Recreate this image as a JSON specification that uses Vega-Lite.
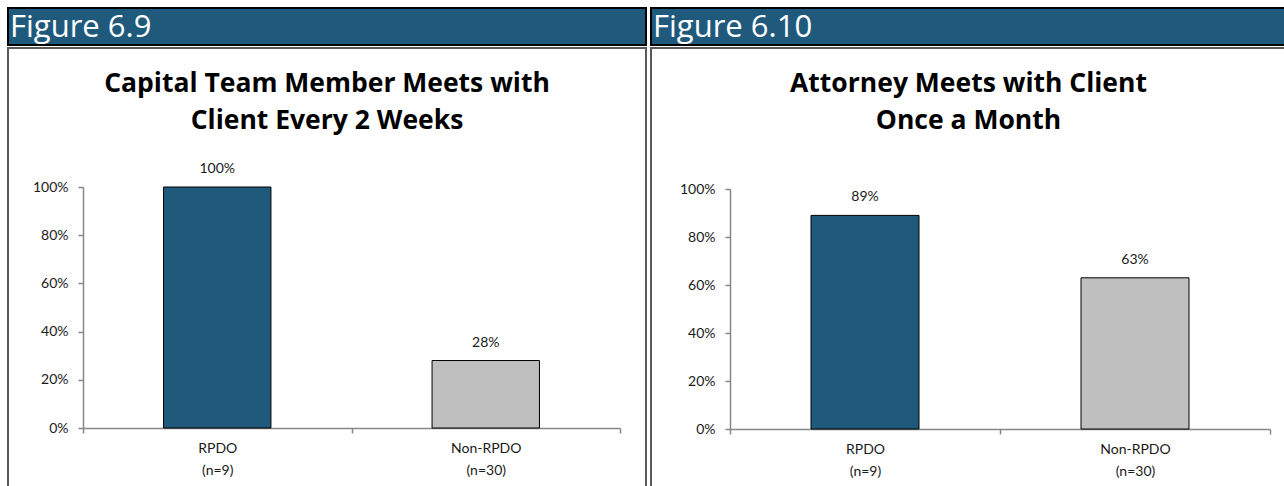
{
  "$schema": "https://vega.github.io/schema/vega-lite/v6.json",
  "padding": {"left": 7, "top": 7, "right": 0, "bottom": 0},
  "background": "white",
  "config": {"font": "Lato", "view": {"stroke": null}},
  "datasets": {
    "fig69": [{"group": "RPDO (n=9)", "pct": 1.0}, {"group": "Non-RPDO (n=30)", "pct": 0.28}],
    "fig610": [{"group": "RPDO (n=9)", "pct": 0.89}, {"group": "Non-RPDO (n=30)", "pct": 0.63}]
  },
  "spacing": 3,
  "hconcat": [
    {
      "spacing": 1,
      "vconcat": [
        {
          "width": 638, "height": 37,
          "view": {"fill": "#1F5A7D", "stroke": "#000000", "strokeWidth": 2},
          "data": {"values": [{"label": "Figure 6.9"}]},
          "mark": {"type": "text", "align": "left", "baseline": "middle", "font": "Open Sans", "fontSize": 31, "color": "white", "dx": 2, "dy": 1},
          "encoding": {
            "text": {"field": "label"},
            "x": {"datum": 0, "type": "quantitative", "scale": {"domain": [0, 1]}, "axis": null}
          }
        },
        {
          "width": 638, "height": 441,
          "view": {"stroke": "#595959", "strokeWidth": 2, "fill": "white"},
          "title": {"text": ["Capital Team Member Meets with", "Client Every 2 Weeks"], "font": "Open Sans", "fontSize": 26.5, "fontWeight": "bold", "color": "#000000", "lineHeight": 37, "offset": -86, "anchor": "middle", "frame": "group"},
          "data": {"name": "fig69"},
          "encoding": {
            "x": {"field": "group", "type": "nominal", "sort": null,
              "scale": {"range": [75, 612], "padding": 0},
              "axis": {"orient": "bottom", "offset": -61, "title": null, "tickBand": "extent", "labelExpr": "split(datum.label, ' ')", "labelAngle": 0, "labelPadding": 8, "labelFontSize": 14, "labelLineHeight": 22, "labelColor": "#1A1A1A", "labelBaseline": "top", "domainColor": "#868686", "domainWidth": 1.5, "tickColor": "#868686", "tickWidth": 1.5, "tickSize": 5}},
            "y": {"field": "pct", "type": "quantitative",
              "scale": {"domain": [0, 1], "range": [380, 139], "nice": false},
              "axis": {"values": [0, 0.2, 0.4, 0.6, 0.8, 1], "format": ".0%", "offset": -75, "title": null, "grid": false, "domainColor": "#868686", "domainWidth": 1.5, "tickColor": "#868686", "tickWidth": 1.5, "tickSize": 5, "labelPadding": 10, "labelFontSize": 14, "labelColor": "#1A1A1A"}}
          },
          "layer": [
            {"mark": {"type": "bar", "width": {"band": 0.4}, "stroke": "#000000", "strokeWidth": 1},
             "encoding": {"color": {"field": "group", "type": "nominal", "scale": {"domain": ["RPDO (n=9)", "Non-RPDO (n=30)"], "range": ["#1F5A7C", "#BFBFBF"]}, "legend": null}}},
            {"mark": {"type": "text", "baseline": "middle", "dy": -18, "fontSize": 14, "color": "#1A1A1A"},
             "encoding": {"text": {"field": "pct", "type": "quantitative", "format": ".0%"}}}
          ]
        }
      ]
    },
    {
      "spacing": 1,
      "vconcat": [
        {
          "width": 635, "height": 37,
          "view": {"fill": "#1F5A7D", "stroke": "#000000", "strokeWidth": 2},
          "data": {"values": [{"label": "Figure 6.10"}]},
          "mark": {"type": "text", "align": "left", "baseline": "middle", "font": "Open Sans", "fontSize": 31, "color": "white", "dx": 2, "dy": 1},
          "encoding": {
            "text": {"field": "label"},
            "x": {"datum": 0, "type": "quantitative", "scale": {"domain": [0, 1]}, "axis": null}
          }
        },
        {
          "width": 635, "height": 441,
          "view": {"stroke": "#595959", "strokeWidth": 2, "fill": "white"},
          "title": {"text": ["Attorney Meets with Client", "Once a Month"], "font": "Open Sans", "fontSize": 26.5, "fontWeight": "bold", "color": "#000000", "lineHeight": 37, "offset": -86, "anchor": "middle", "frame": "group"},
          "data": {"name": "fig610"},
          "encoding": {
            "x": {"field": "group", "type": "nominal", "sort": null,
              "scale": {"range": [79, 619], "padding": 0},
              "axis": {"orient": "bottom", "offset": -60, "title": null, "tickBand": "extent", "labelExpr": "split(datum.label, ' ')", "labelAngle": 0, "labelPadding": 8, "labelFontSize": 14, "labelLineHeight": 22, "labelColor": "#1A1A1A", "labelBaseline": "top", "domainColor": "#868686", "domainWidth": 1.5, "tickColor": "#868686", "tickWidth": 1.5, "tickSize": 5}},
            "y": {"field": "pct", "type": "quantitative",
              "scale": {"domain": [0, 1], "range": [381, 141], "nice": false},
              "axis": {"values": [0, 0.2, 0.4, 0.6, 0.8, 1], "format": ".0%", "offset": -79, "title": null, "grid": false, "domainColor": "#868686", "domainWidth": 1.5, "tickColor": "#868686", "tickWidth": 1.5, "tickSize": 5, "labelPadding": 10, "labelFontSize": 14, "labelColor": "#1A1A1A"}}
          },
          "layer": [
            {"mark": {"type": "bar", "width": {"band": 0.4}, "stroke": "#000000", "strokeWidth": 1},
             "encoding": {"color": {"field": "group", "type": "nominal", "scale": {"domain": ["RPDO (n=9)", "Non-RPDO (n=30)"], "range": ["#1F5A7C", "#BFBFBF"]}, "legend": null}}},
            {"mark": {"type": "text", "baseline": "middle", "dy": -18, "fontSize": 14, "color": "#1A1A1A"},
             "encoding": {"text": {"field": "pct", "type": "quantitative", "format": ".0%"}}}
          ]
        }
      ]
    }
  ]
}
